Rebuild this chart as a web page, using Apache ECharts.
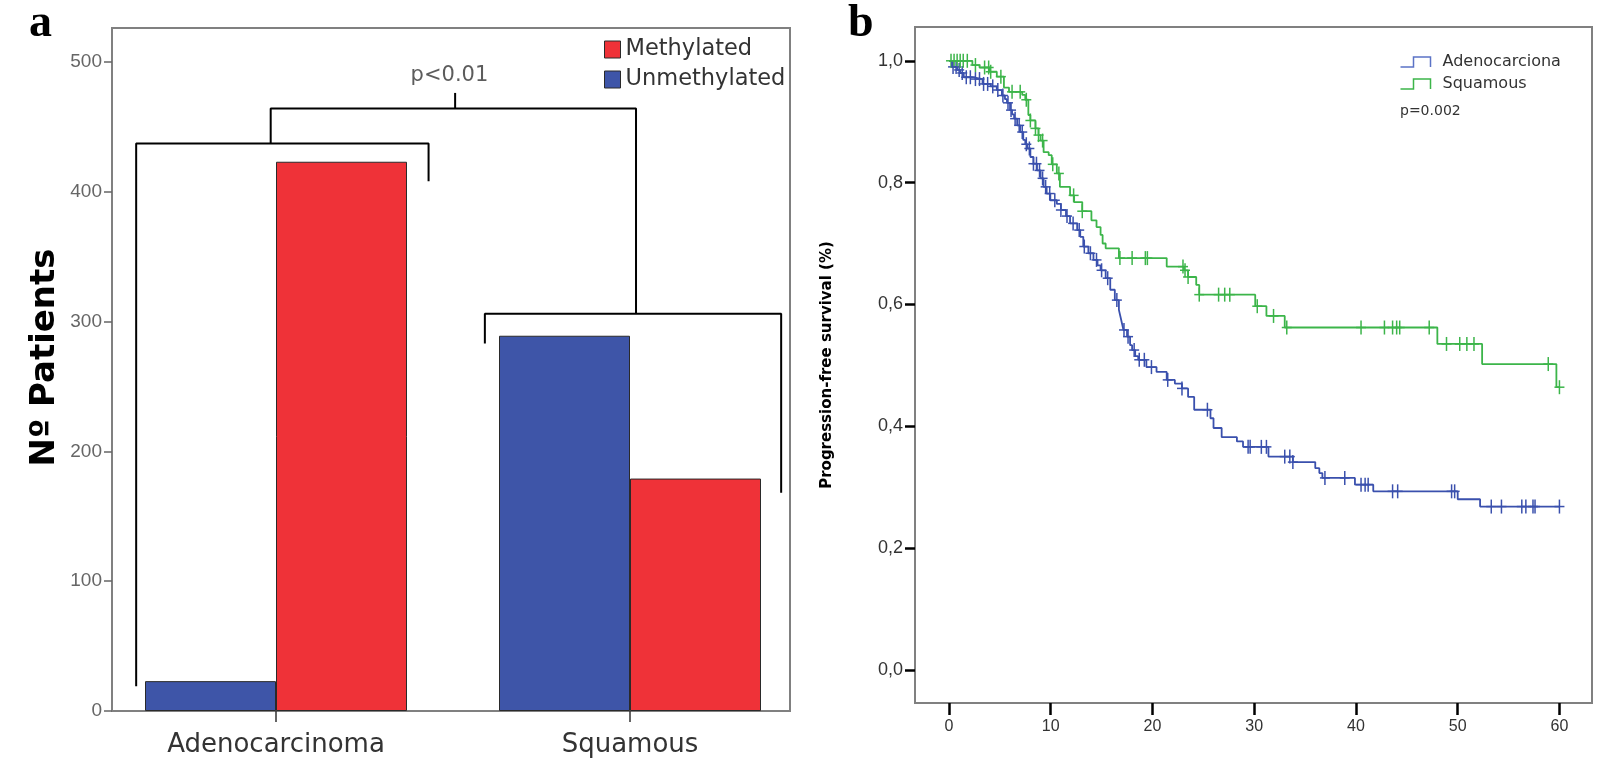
<!DOCTYPE html>
<html><head><meta charset="utf-8">
<script src="https://cdn.jsdelivr.net/npm/echarts@6/dist/echarts.min.js"></script>
<style>html,body{margin:0;padding:0;background:#fff}#c{width:1598px;height:767px}</style>
</head><body><div id="c"></div><script>
// ---------- Panel a data ----------
const categories = ['Adenocarcinoma', 'Squamous'];
const unmethylated = [23, 289];
const methylated = [423, 179];
const barTicks = [0, 100, 200, 300, 400, 500];
// significance brackets (x in category units, y in patients)
const bracketAdeno = [[-0.395, 19], [-0.395, 437], [0.431, 437], [0.431, 408]];
const bracketSquamous = [[0.59, 283], [0.59, 306], [1.427, 306], [1.427, 168]];
const bracketTop = [[-0.015, 437], [-0.015, 464], [1.017, 464], [1.017, 306]];
const bracketStem = [[0.506, 464], [0.506, 476]];
const pLabelA = [[0.49, 489]];

// ---------- Panel b data (Kaplan-Meier) ----------
const adenoT = [0,0.3,0.8,1.1,1.45,2.3,3.3,4.1,4.7,5.2,5.5,5.7,6.0,6.2,6.4,6.7,7.0,7.3,7.5,7.7,8.0,8.3,8.65,9.0,9.3,9.6,9.96,10.6,11.0,11.5,11.9,12.6,12.9,13.2,13.7,14.2,14.6,14.9,15.4,15.85,16.3,16.7,16.85,17.0,17.15,17.5,17.8,18.0,18.3,18.6,19.4,20.4,21.4,22.2,22.9,23.5,24.1,25.7,26.0,26.8,28.3,28.9,31.4,33.8,36.0,36.4,36.7,39.9,41.7,50.0,52.2,60.0];
const adenoS = [1.0,0.99,0.985,0.98,0.973,0.970,0.962,0.958,0.952,0.943,0.937,0.931,0.919,0.912,0.905,0.894,0.883,0.870,0.863,0.856,0.842,0.831,0.820,0.807,0.793,0.782,0.771,0.765,0.755,0.745,0.733,0.722,0.711,0.695,0.684,0.673,0.664,0.656,0.643,0.624,0.607,0.591,0.580,0.569,0.558,0.547,0.533,0.525,0.515,0.509,0.497,0.489,0.476,0.470,0.462,0.448,0.427,0.413,0.397,0.382,0.375,0.366,0.350,0.341,0.331,0.323,0.315,0.304,0.293,0.280,0.268,0.268];
const adenoCensor = [0.4,0.7,1.0,1.3,1.7,2.1,2.6,3.0,3.4,3.8,4.3,4.8,5.3,5.8,6.1,6.5,6.9,7.2,7.6,7.9,8.3,8.6,8.9,9.2,9.5,9.9,10.4,11.0,11.6,12.2,12.8,13.3,13.9,14.5,15.0,15.6,16.5,17.2,17.6,18.2,18.7,19.2,19.9,21.5,22.9,25.4,29.4,29.6,30.7,31.2,33.0,33.5,33.8,36.95,38.9,40.5,40.9,41.2,43.6,44.1,49.4,49.7,53.3,54.3,56.3,56.7,57.4,57.6,60.0];
const squamT = [0,2.3,3.0,4.0,4.7,5.4,5.9,7.2,7.5,7.8,8.0,8.5,8.8,9.0,9.3,9.8,10.1,10.6,10.9,11.9,12.3,13.1,14.0,14.5,14.9,15.1,15.4,16.7,21.4,23.1,23.5,24.3,24.6,30.1,31.2,33.0,48.0,52.4,59.7,60.0];
const squamS = [1.0,0.993,0.989,0.982,0.974,0.956,0.949,0.944,0.936,0.911,0.902,0.889,0.878,0.869,0.850,0.845,0.830,0.815,0.793,0.779,0.768,0.753,0.738,0.727,0.714,0.700,0.692,0.676,0.662,0.656,0.645,0.632,0.616,0.597,0.581,0.562,0.535,0.502,0.464,0.464];
const squamCensor = [0.2,0.5,0.8,1.1,1.4,1.8,2.6,3.5,3.9,4.1,5.1,6.2,7.0,7.6,8.0,8.5,8.8,9.2,10.2,10.8,12.25,13.1,16.8,18.0,19.3,19.5,23.0,23.2,23.5,24.6,26.5,27.1,27.6,30.3,31.9,33.2,40.5,42.8,43.6,44.0,44.3,47.2,48.9,50.2,50.9,51.6,58.9,60.0];
const survTicks = [0, 0.2, 0.4, 0.6, 0.8, 1.0];
const timeTicks = [0, 10, 20, 30, 40, 50, 60];

const BLUE_BAR = '#3e55a8', RED_BAR = '#ef3238';
const BLUE_KM = '#3a50ad', GREEN_KM = '#3cb54a';

function pairs(t, s) { return t.map((v, i) => [v, s[i]]); }
function survAt(t, s, x) { let v = s[0]; for (let i = 0; i < t.length; i++) { if (t[i] <= x) v = s[i]; } return v; }
function censorData(ct, t, s) { return ct.map(x => [x, survAt(t, s, x)]); }
function censorRender(color) {
  return function (params, api) {
    const p = api.coord([api.value(0), api.value(1)]);
    const st = { stroke: color, lineWidth: 1.5 };
    return { type: 'group', children: [
      { type: 'line', shape: { x1: p[0], y1: p[1] - 7, x2: p[0], y2: p[1] + 7 }, style: st },
      { type: 'line', shape: { x1: p[0] - 5, y1: p[1], x2: p[0] + 5, y2: p[1] }, style: st }
    ]};
  };
}
function bracket(name, data) {
  return { name: name, type: 'line', xAxisIndex: 1, yAxisIndex: 0, data: data, symbol: 'none',
    lineStyle: { color: '#000', width: 2 }, silent: true, animation: false };
}

const chart = echarts.init(document.getElementById('c'), null, { renderer: 'canvas' });
chart.setOption({
  animation: false,
  backgroundColor: '#fff',
  title: [
    { text: 'a', left: 29, top: 1, padding: 0, textStyle: { fontFamily: 'Liberation Serif', fontWeight: 'bold', fontSize: 46, color: '#000' } },
    { text: 'b', left: 848, top: 1, padding: 0, textStyle: { fontFamily: 'Liberation Serif', fontWeight: 'bold', fontSize: 46, color: '#000' } },
    { text: 'p=0.002', left: 1400, top: 104, padding: 0, textStyle: { fontFamily: 'DejaVu Sans', fontWeight: 'normal', fontSize: 14, color: '#333' } }
  ],
  legend: [
    { data: ['Methylated', 'Unmethylated'], orient: 'vertical', left: 599, top: 33, itemWidth: 16, itemHeight: 17, itemGap: 7,
      icon: 'rect', itemStyle: { borderColor: '#2a2a2a', borderWidth: 1 },
      textStyle: { fontFamily: 'DejaVu Sans', fontSize: 22.5, color: '#333' }, selectedMode: false },
    { data: [{ name: 'Adenocarciona', itemStyle: { borderColor: '#5b73c6' } }, { name: 'Squamous', itemStyle: { borderColor: '#3cb54a' } }],
      orient: 'vertical', left: 1398, top: 54, padding: 0, itemWidth: 32, itemHeight: 10, itemGap: 6,
      icon: 'path://M0,10 L13,10 L13,0 L30,0 L30,10',
      itemStyle: { color: 'none', borderWidth: 1.5 },
      textStyle: { fontFamily: 'DejaVu Sans', fontSize: 16, color: '#333', padding: [0, 0, 0, 6] }, selectedMode: false }
  ],
  grid: [
    { left: 99, top: 28, width: 708, height: 683, show: false },
    { left: 112, top: 28, width: 678, height: 683, show: true, borderColor: '#808080', borderWidth: 2, backgroundColor: 'transparent' },
    { left: 915, top: 27, width: 677, height: 676, show: true, borderColor: '#808080', borderWidth: 2, backgroundColor: 'transparent' }
  ],
  xAxis: [
    { type: 'category', gridIndex: 0, data: categories, boundaryGap: true,
      axisLine: { show: false, onZero: false }, axisTick: { show: true, alignWithLabel: true, length: 11, lineStyle: { color: '#333', width: 1.5 } },
      axisLabel: { interval: 0, margin: 21, fontFamily: 'DejaVu Sans', fontSize: 26, color: '#333' }, splitLine: { show: false } },
    { type: 'value', gridIndex: 0, min: -0.5, max: 1.5, show: false },
    { type: 'value', gridIndex: 1, min: 0, max: 1, show: false },
    { type: 'value', gridIndex: 2, min: -3.34, max: 63.2,
      axisLine: { show: false, onZero: false },
      axisTick: { show: true, customValues: timeTicks, length: 12, lineStyle: { color: '#000', width: 2.5 } },
      axisLabel: { customValues: timeTicks, margin: 16, fontFamily: 'Liberation Sans', fontSize: 16, color: '#333' },
      splitLine: { show: false } }
  ],
  yAxis: [
    { type: 'value', gridIndex: 0, min: 0, max: 526, show: false },
    { type: 'value', gridIndex: 1, min: 0, max: 526,
      name: 'Nº Patients', nameLocation: 'middle', nameRotate: 90, nameGap: 50,
      nameTextStyle: { fontFamily: 'DejaVu Sans', fontWeight: 'bold', fontSize: 34, color: '#000', padding: [0, 0, 0, 24] },
      axisLine: { show: false, onZero: false },
      axisTick: { show: true, customValues: barTicks, length: 8, lineStyle: { color: '#666', width: 1.5 } },
      axisLabel: { customValues: barTicks, margin: 10, fontFamily: 'Liberation Sans', fontSize: 19, color: '#666' },
      splitLine: { show: false } },
    { type: 'value', gridIndex: 2, min: -0.0546, max: 1.0555,
      name: 'Progression-free survival (%)', nameLocation: 'middle', nameRotate: 90, nameGap: 80,
      nameTextStyle: { fontFamily: 'DejaVu Sans', fontWeight: 'bold', fontSize: 15, color: '#000' },
      axisLine: { show: false, onZero: false },
      axisTick: { show: true, customValues: survTicks, length: 10, lineStyle: { color: '#000', width: 2.5 } },
      axisLabel: { customValues: survTicks, margin: 12, fontFamily: 'Liberation Sans', fontSize: 18, color: '#333',
        formatter: v => v.toFixed(1).replace('.', ',') },
      splitLine: { show: false } }
  ],
  series: [
    { name: 'Unmethylated', type: 'bar', xAxisIndex: 0, yAxisIndex: 0, data: unmethylated, barWidth: 131, barGap: '0%',
      itemStyle: { color: BLUE_BAR, borderColor: '#2a2a2a', borderWidth: 1 } },
    { name: 'Methylated', type: 'bar', xAxisIndex: 0, yAxisIndex: 0, data: methylated, barWidth: 131, barGap: '0%',
      itemStyle: { color: RED_BAR, borderColor: '#2a2a2a', borderWidth: 1 } },
    bracket('bracketAdeno', bracketAdeno),
    bracket('bracketSquamous', bracketSquamous),
    bracket('bracketTop', bracketTop),
    bracket('bracketStem', bracketStem),
    { name: 'pA', type: 'scatter', xAxisIndex: 1, yAxisIndex: 0, data: pLabelA, symbolSize: 0, silent: true,
      label: { show: true, position: 'inside', formatter: 'p<0.01', fontFamily: 'DejaVu Sans', fontSize: 21, color: '#333' } },
    { name: 'Adenocarciona', type: 'line', xAxisIndex: 3, yAxisIndex: 2, data: pairs(adenoT, adenoS), step: 'end',
      symbol: 'none', color: BLUE_KM, lineStyle: { color: BLUE_KM, width: 1.8 } },
    { name: 'Squamous', type: 'line', xAxisIndex: 3, yAxisIndex: 2, data: pairs(squamT, squamS), step: 'end',
      symbol: 'none', color: GREEN_KM, lineStyle: { color: GREEN_KM, width: 1.8 } },
    { name: 'adenoCensor', type: 'custom', xAxisIndex: 3, yAxisIndex: 2, data: censorData(adenoCensor, adenoT, adenoS),
      renderItem: censorRender(BLUE_KM), silent: true },
    { name: 'squamCensor', type: 'custom', xAxisIndex: 3, yAxisIndex: 2, data: censorData(squamCensor, squamT, squamS),
      renderItem: censorRender(GREEN_KM), silent: true }
  ]
});
</script></body></html>
